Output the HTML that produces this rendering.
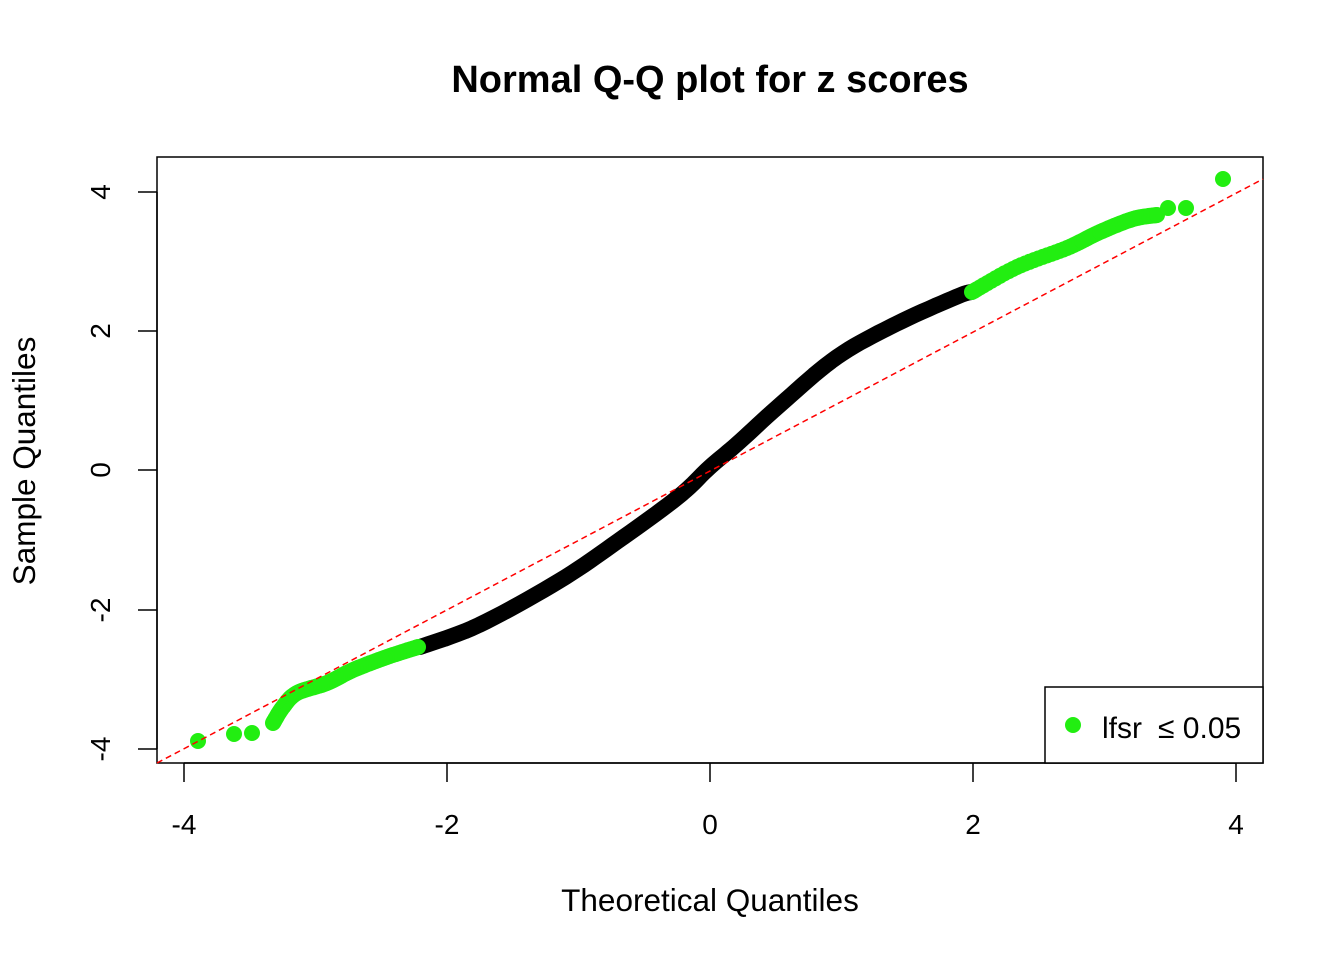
<!DOCTYPE html>
<html><head><meta charset="utf-8"><style>
html,body{margin:0;padding:0;background:#fff;}
svg{display:block;font-family:"Liberation Sans",Arial,sans-serif;}
</style></head><body>
<svg id="s" width="1344" height="960" viewBox="0 0 1344 960">
<rect width="1344" height="960" fill="#fff"/>
<text x="710" y="92" text-anchor="middle" font-size="38" font-weight="bold">Normal Q-Q plot for z scores</text>
<rect x="157" y="157" width="1106" height="606" fill="none" stroke="#000" stroke-width="1.5"/>
<g stroke="#000" stroke-width="1.5">
<line x1="184" y1="763" x2="1236" y2="763"/>
<line x1="184" y1="763" x2="184" y2="782"/><line x1="447" y1="763" x2="447" y2="782"/><line x1="710" y1="763" x2="710" y2="782"/><line x1="973" y1="763" x2="973" y2="782"/><line x1="1236" y1="763" x2="1236" y2="782"/>
<line x1="157" y1="192" x2="157" y2="749"/>
<line x1="138" y1="192" x2="157" y2="192"/><line x1="138" y1="331" x2="157" y2="331"/><line x1="138" y1="470" x2="157" y2="470"/><line x1="138" y1="610" x2="157" y2="610"/><line x1="138" y1="749" x2="157" y2="749"/>
</g>
<g font-size="28" text-anchor="middle">
<text x="184" y="834">-4</text><text x="447" y="834">-2</text><text x="710" y="834">0</text><text x="973" y="834">2</text><text x="1236" y="834">4</text>
<text transform="translate(110,192) rotate(-90)">4</text>
<text transform="translate(110,331) rotate(-90)">2</text>
<text transform="translate(110,470) rotate(-90)">0</text>
<text transform="translate(110,610) rotate(-90)">-2</text>
<text transform="translate(110,749) rotate(-90)">-4</text>
</g>
<text x="710" y="911" text-anchor="middle" font-size="31.5">Theoretical Quantiles</text>
<text transform="translate(35,461) rotate(-90)" text-anchor="middle" font-size="31.5">Sample Quantiles</text>
<g id="pts"></g>
<line x1="157" y1="763" x2="1263" y2="179" stroke="#f00" stroke-width="1.5" stroke-dasharray="6,4"/>
<rect x="1045" y="687" width="218" height="76" fill="#fff" stroke="#000" stroke-width="1.5"/>
<circle cx="1073" cy="725" r="8" fill="#22ee11"/>
<text x="1102" y="738" font-size="30">lfsr<tspan dx="16">≤ 0.05</tspan></text>
</svg>
<script>
function cr(P,n){var out=[];for(var i=0;i<P.length-1;i++){var p0=P[Math.max(0,i-1)],p1=P[i],p2=P[i+1],p3=P[Math.min(P.length-1,i+2)];for(var t=0;t<1;t+=1/n){var t2=t*t,t3=t2*t;var f=function(a,b,c,d){return 0.5*((2*b)+(-a+c)*t+(2*a-5*b+4*c-d)*t2+(-a+3*b-3*c+d)*t3)};out.push([f(p0[0],p1[0],p2[0],p3[0]),f(p0[1],p1[1],p2[1],p3[1])]);}}out.push(P[P.length-1]);return out;}
var blk=[[420,647],[479,625],[559,581],[618,541],[678,497],[710,467],[737,444],[781,404],[837,357],[896,324],[956,297],[971,292]];
var up=[[972,292],[1017,267],[1067,248],[1100,232],[1133,219],[1157,215]];
var lo=[[418,647],[387,657],[353,670],[327,683],[297,693],[283,707],[273,723]];
var h='';var b=cr(blk,10),d='';b.forEach(function(p,i){d+=(i?'L':'M')+p[0].toFixed(1)+','+p[1].toFixed(1)});
h+='<path d="'+d+'" fill="none" stroke="#000" stroke-width="16" stroke-linecap="round" stroke-linejoin="round"/>';
function c(x,y){h+='<circle cx="'+x.toFixed(1)+'" cy="'+y.toFixed(1)+'" r="8" fill="#22ee11"/>';}
cr(up,12).forEach(function(p){c(p[0],p[1])});cr(lo,12).forEach(function(p){c(p[0],p[1])});
[[1168,208],[1186,208],[1223,179],[252,733],[234,734],[198,741]].forEach(function(p){c(p[0],p[1])});
document.getElementById('pts').innerHTML=h;
</script>
</body></html>
